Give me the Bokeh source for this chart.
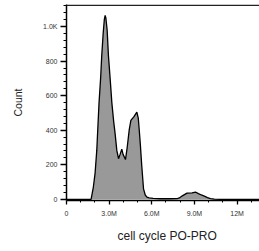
from bokeh.plotting import figure
from bokeh.models import FixedTicker, Range1d, Title, Span
from bokeh.embed import file_html
from bokeh.resources import INLINE

# PO-PRO intensity (millions) and event counts
x_m = [0.0, 1.73, 1.89, 2.01, 2.13, 2.29, 2.40, 2.48, 2.58, 2.66, 2.72, 2.77, 2.86,
       2.95, 3.07, 3.19, 3.32, 3.42, 3.54, 3.66, 3.77, 3.89, 3.98, 4.15, 4.27, 4.41,
       4.53, 4.66, 4.76, 4.87, 4.95, 5.05, 5.12, 5.19, 5.29, 5.42, 5.54, 5.66, 5.82,
       6.10, 6.6, 7.3, 7.8, 7.94, 8.15, 8.48, 8.84, 9.07, 9.28, 9.49, 9.70, 9.92,
       10.13, 10.4, 10.8, 13.6]
counts = [0, 0, 71, 150, 283, 560, 700, 832, 960, 1040, 1065, 1050, 980,
          832, 700, 560, 450, 380, 283, 235, 260, 290, 260, 230, 300, 400,
          457, 470, 480, 495, 505, 470, 400, 324, 200, 60, 25, 13, 8,
          5, 3, 3, 4, 8, 20, 36, 37, 42, 33, 25, 18, 10,
          4, 1, 0, 0]

x_ticks = [0, 3, 6, 9, 12]
x_tick_labels = ["0", "3.0M", "6.0M", "9.0M", "12M"]
x_minor = [1, 2, 4, 5, 7, 8, 10, 11, 13]
y_ticks = [0, 200, 400, 600, 800, 1000]
y_tick_labels = ["0", "200", "400", "600", "800", "1.0K"]
y_minor = [v for v in range(40, 1121, 40) if v % 200 != 0]
y_top = 1124

FONT = "Liberation Sans"

p = figure(width=259, height=251, output_backend="svg", toolbar_location=None,
           x_range=Range1d(0, 13.58), y_range=Range1d(-7, 1128),
           min_border_left=66, min_border_right=0, min_border_top=4,
           min_border_bottom=51)

p.varea(x=x_m, y1=0, y2=counts, fill_color="#999999")
p.line(x=x_m, y=counts, line_color="black", line_width=1.3)
p.add_layout(Span(location=y_top, dimension="width", line_color="#222222", line_width=1.5))

p.grid.visible = False
p.outline_line_color = None

p.xaxis.ticker = FixedTicker(ticks=x_ticks, minor_ticks=x_minor)
p.xaxis.major_label_overrides = dict(zip(x_ticks, x_tick_labels))
p.yaxis.ticker = FixedTicker(ticks=y_ticks, minor_ticks=y_minor)
p.yaxis.major_label_overrides = dict(zip(y_ticks, y_tick_labels))

for ax in (p.xaxis, p.yaxis):
    ax.axis_line_color = "black"
    ax.axis_line_width = 1.5
    ax.major_tick_line_color = "black"
    ax.major_tick_line_width = 1.3
    ax.minor_tick_line_color = "black"
    ax.minor_tick_line_width = 1
    ax.major_tick_in = 0
    ax.minor_tick_in = 0
    ax.major_label_text_font = FONT
    ax.major_label_text_font_size = "7px"
    ax.major_label_text_color = "#333333"
    ax.axis_label_text_font = FONT
    ax.axis_label_text_font_style = "normal"
    ax.axis_label_text_color = "#222222"

p.xaxis.major_tick_out = 4
p.xaxis.minor_tick_out = 2
p.xaxis.major_label_standoff = 5
p.yaxis.major_tick_out = 6
p.yaxis.minor_tick_out = 3
p.yaxis.major_label_standoff = 3
p.yaxis.axis_label = "Count"
p.yaxis.axis_label_text_font_size = "10.5px"
p.yaxis.axis_label_standoff = 16

p.add_layout(Title(text="cell cycle PO-PRO", align="left", offset=51, standoff=14,
                   text_font=FONT, text_font_size="12px", text_font_style="normal",
                   text_color="#222222"), "below")

open("out.html", "w").write(file_html(p, INLINE))
